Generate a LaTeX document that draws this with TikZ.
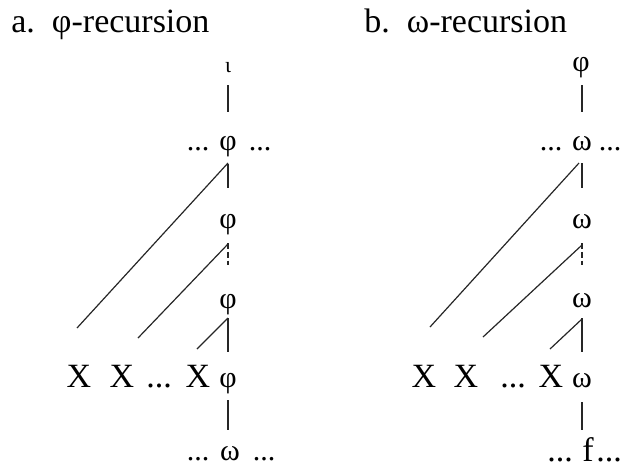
\documentclass[tikz,border=0pt]{standalone}
\usepackage{fontspec}
\setmainfont{Liberation Serif}
\usepackage{tikz}
\tikzset{
  lbl/.style={anchor=base, inner sep=0pt, font=\fontsize{15}{18}\selectfont},
  smalllbl/.style={lbl, font=\fontsize{11}{13}\selectfont},
  biglbl/.style={lbl, font=\fontsize{17}{20}\selectfont},
  headline/.style={anchor=base west, inner sep=0pt, font=\fontsize{17}{20}\selectfont},
  branch/.style={line width=0.6pt, black!85},
  dashbranch/.style={branch, dash pattern=on 3pt off 1.4pt}
}

\begin{document}
\begin{tikzpicture}[x=0.5pt, y=-0.5pt]
  \useasboundingbox (0,0) rectangle (621,473);

  % a. phi-recursion
  \node[headline] (titleA) at (11,32) {a.\hspace{8.5pt}φ-recursion};
  \node[smalllbl] (iA) at (228,72) {ι};
  \node[lbl] (pA1) at (228,150) {φ};
  \node[lbl] (dotsA1l) at (198,150) {...};
  \node[lbl] (dotsA1r) at (260,150) {...};
  \node[lbl] (pA2) at (228,228) {φ};
  \node[lbl] (pA3) at (228,308) {φ};
  \node[biglbl] (xA1) at (79,387) {X};
  \node[biglbl] (xA2) at (122,387) {X};
  \node[biglbl] (dotsAx) at (159,387) {...};
  \node[biglbl] (xA3) at (198,387) {X};
  \node[lbl] (pA4) at (228,387) {φ};
  \node[lbl] (oA) at (230,460) {ω};
  \node[lbl] (dotsA2l) at (198,460) {...};
  \node[lbl] (dotsA2r) at (264,460) {...};

  \draw[branch] ([yshift=-6.5pt]iA.base) -- ([yshift=19pt]pA1.base);
  \draw[branch] ([yshift=-7pt]pA1.base) -- ([yshift=20pt]pA2.base);
  \draw[branch] ([yshift=-6.5pt]pA1.base) -- ([xshift=-1pt,yshift=29.5pt]xA1.base);
  \draw[dashbranch] ([yshift=-7.5pt]pA2.base) -- ([yshift=21.5pt]pA3.base);
  \draw[branch] ([yshift=-8pt]pA2.base) -- ([xshift=8pt,yshift=24.5pt]xA2.base);
  \draw[branch] ([yshift=-5pt]pA3.base) -- ([yshift=17.5pt]pA4.base);
  \draw[branch] ([yshift=-5pt]pA3.base) -- ([xshift=-0.5pt,yshift=19pt]xA3.base);
  \draw[branch] ([yshift=-6.5pt]pA4.base) -- ([xshift=-1pt,yshift=15pt]oA.base);

  % b. omega-recursion
  \node[headline] (titleB) at (364,32) {b.\hspace{8.5pt}ω-recursion};
  \node[lbl] (pB) at (581,71) {φ};
  \node[lbl] (oB1) at (582,150) {ω};
  \node[lbl] (dotsB1l) at (551,150) {...};
  \node[lbl] (dotsB1r) at (610,150) {...};
  \node[lbl] (oB2) at (582,228) {ω};
  \node[lbl] (oB3) at (582,307) {ω};
  \node[biglbl] (xB1) at (424,387) {X};
  \node[biglbl] (xB2) at (466,387) {X};
  \node[biglbl] (dotsBx) at (513,387) {...};
  \node[biglbl] (xB3) at (551,387) {X};
  \node[lbl] (oB4) at (582,387) {ω};
  \node[biglbl] (fB) at (588,461) {f};
  \node[biglbl] (dotsB2l) at (560,461) {...};
  \node[biglbl] (dotsB2r) at (609,461) {...};

  \draw[branch] ([xshift=0.5pt,yshift=-7pt]pB.base) -- ([yshift=19pt]oB1.base);
  \draw[branch] ([yshift=-6.5pt]oB1.base) -- ([yshift=20pt]oB2.base);
  \draw[branch] ([xshift=-1.5pt,yshift=-6.5pt]oB1.base) -- ([xshift=3pt,yshift=30pt]xB1.base);
  \draw[dashbranch] ([yshift=-7.5pt]oB2.base) -- ([yshift=21pt]oB3.base);
  \draw[branch] ([yshift=-8.5pt]oB2.base) -- ([xshift=8.5pt,yshift=25pt]xB2.base);
  \draw[branch] ([yshift=-5.5pt]oB3.base) -- ([yshift=17.5pt]oB4.base);
  \draw[branch] ([yshift=-6pt]oB3.base) -- ([xshift=-0.5pt,yshift=19pt]xB3.base);
  \draw[branch] ([yshift=-7.5pt]oB4.base) -- ([xshift=-3pt,yshift=15.5pt]fB.base);
\end{tikzpicture}
\end{document}
